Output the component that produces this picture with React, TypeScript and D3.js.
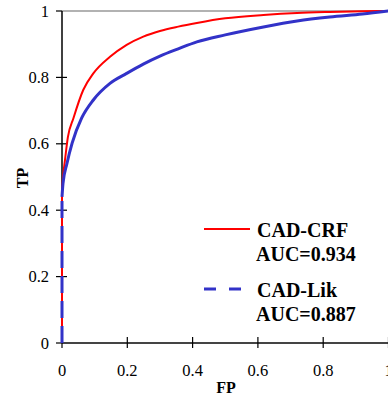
import * as d3 from "d3";

// CAD-CRF curve
const crfFP = [0, 0, 0.003, 0.009, 0.018, 0.035, 0.065, 0.096, 0.147, 0.198, 0.249, 0.3, 0.356, 0.413, 0.5, 0.617, 0.72, 0.82, 0.92, 1];
const crfTP = [0, 0.46, 0.5, 0.55, 0.62, 0.677, 0.762, 0.812, 0.862, 0.898, 0.923, 0.94, 0.953, 0.964, 0.978, 0.988, 0.994, 0.997, 0.999, 1];

// CAD-Lik curve
const likFP = [0, 0, 0.003, 0.015, 0.031, 0.06, 0.096, 0.147, 0.198, 0.249, 0.3, 0.356, 0.413, 0.5, 0.617, 0.72, 0.82, 0.92, 1];
const likTP = [0, 0.44, 0.48, 0.54, 0.602, 0.677, 0.732, 0.782, 0.812, 0.84, 0.864, 0.886, 0.907, 0.928, 0.952, 0.97, 0.982, 0.991, 1];

const ticks = [0, 0.2, 0.4, 0.6, 0.8, 1];
const tickLabels = ["0", "0.2", "0.4", "0.6", "0.8", "1"];

const legend = [
  { name: "CAD-CRF", auc: "AUC=0.934", color: "#ff0000", dash: undefined as string | undefined },
  { name: "CAD-Lik", auc: "AUC=0.887", color: "#3232c8", dash: "12,13" },
];

const W = 388;
const H = 396;
const font = "Liberation Serif, Times New Roman, serif";

const x = d3.scaleLinear().domain([0, 1]).range([62, 388.5]);
const y = d3.scaleLinear().domain([0, 1]).range([343, 11]);

const smooth = d3
  .line<[number, number]>()
  .x((d) => x(d[0]))
  .y((d) => y(d[1]))
  .curve(d3.curveMonotoneX);
const straight = d3
  .line<[number, number]>()
  .x((d) => x(d[0]))
  .y((d) => y(d[1]));

export default function App() {
  const crf: [number, number][] = crfFP.map((f, i) => [f, crfTP[i]]);
  const lik: [number, number][] = likFP.map((f, i) => [f, likTP[i]]);
  const rows = [229, 289];
  const tickStyle = { fontFamily: font, fontSize: 16.5 };
  const bold = (size: number) => ({ fontFamily: font, fontSize: size, fontWeight: "bold" as const });

  return (
    <svg width={W} height={H} style={{ position: "absolute", left: 0, top: 0, background: "#fff" }}>
      {/* top grid line */}
      <line x1={x(0)} x2={W} y1={y(1)} y2={y(1)} stroke="#999" strokeWidth={1.5} />

      {/* y axis */}
      <line x1={x(0)} x2={x(0)} y1={y(0)} y2={y(1)} stroke="#000" strokeWidth={1.5} />
      {ticks.map((t, i) => (
        <g key={`y${t}`}>
          <line x1={x(0) - 6} x2={x(0) + (t === 1 ? 0 : 5)} y1={y(t)} y2={y(t)} stroke="#000" strokeWidth={1.2} />
          <text x={49} y={y(t) + 5.5} textAnchor="end" style={tickStyle}>
            {tickLabels[i]}
          </text>
        </g>
      ))}

      {/* x axis */}
      <line x1={x(0)} x2={W} y1={y(0)} y2={y(0)} stroke="#444" strokeWidth={2} />
      {ticks.map((t, i) => (
        <g key={`x${t}`}>
          <line x1={x(t)} x2={x(t)} y1={y(0) - 6} y2={y(0) + 5} stroke="#000" strokeWidth={1.2} />
          <text x={x(t)} y={376} textAnchor="middle" style={tickStyle}>
            {tickLabels[i]}
          </text>
        </g>
      ))}

      {/* axis titles */}
      <text x={226} y={393} textAnchor="middle" style={bold(16)}>
        FP
      </text>
      <text transform="translate(28,178) rotate(-90)" textAnchor="middle" style={bold(16)}>
        TP
      </text>

      {/* curves */}
      <path d={straight(crf.slice(0, 2)) ?? ""} fill="none" stroke={legend[0].color} strokeWidth={2} />
      <path d={smooth(crf.slice(1)) ?? ""} fill="none" stroke={legend[0].color} strokeWidth={2} />
      <path d={straight(lik.slice(0, 2)) ?? ""} fill="none" stroke={legend[1].color} strokeWidth={3} strokeDasharray="17,8" />
      <path d={smooth(lik.slice(1)) ?? ""} fill="none" stroke={legend[1].color} strokeWidth={3} />

      {/* legend */}
      {legend.map((l, i) => (
        <g key={l.name}>
          <line
            x1={204}
            x2={i === 0 ? 250 : 243}
            y1={rows[i]}
            y2={rows[i]}
            stroke={l.color}
            strokeWidth={i === 0 ? 2 : 3}
            strokeDasharray={l.dash}
          />
          <text x={257} y={rows[i] + 8} style={bold(20)}>
            {l.name}
          </text>
          <text x={256} y={rows[i] + 32} style={bold(20)}>
            {l.auc}
          </text>
        </g>
      ))}
    </svg>
  );
}
